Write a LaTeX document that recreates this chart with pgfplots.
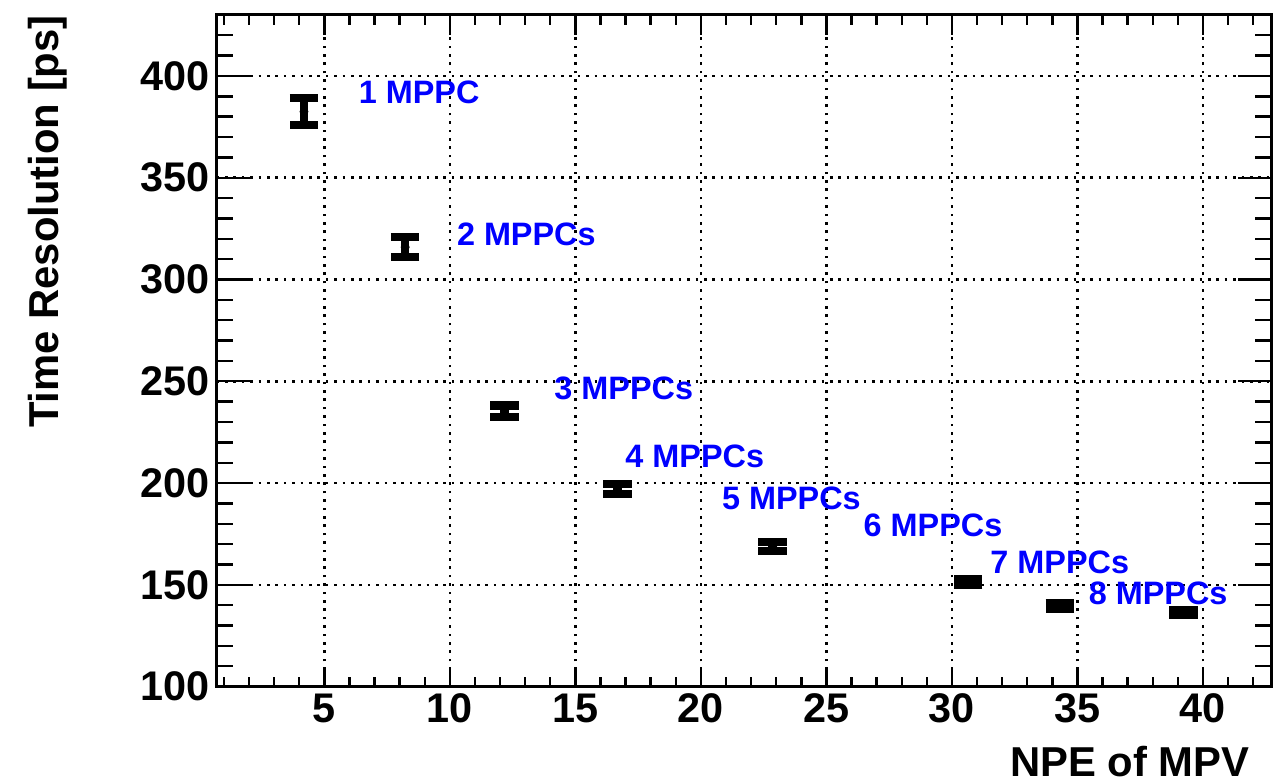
\documentclass[border=0pt]{standalone}
\usepackage{pgfplots}
\pgfplotsset{compat=1.18}
\usepackage{fontspec}
\setmainfont{Liberation Sans}

% time resolution vs. number of photoelectrons (MPV)
\pgfplotstableread{
npe   res    err
4.19  382.5  6.6
8.22  315.9  4.9
12.18 235.2  2.9
16.68 197.1  2.5
22.86 168.9  2.1
30.65 151.4  1.5
34.30 139.6  1.4
39.22 136.3  1.1
}\restable

\definecolor{rootblue}{RGB}{0,0,255}

\begin{document}
\begin{tikzpicture}
\useasboundingbox (-108.35pt,-48.15pt) rectangle (534.15pt,343.3pt);
\begin{axis}[
  scale only axis,
  width=527.15pt, height=335.85pt,
  xmin=0.713, xmax=42.71,
  ymin=100, ymax=430,
  xtick={5,10,...,40},
  ytick={100,150,...,400},
  minor xtick={1,...,42},
  minor ytick={100,110,...,430},
  tick align=inside,
  xtick pos=both, ytick pos=both,
  axis line style={line width=1.5pt, black},
  every tick/.style={black, line width=1.2pt},
  xtick style={/pgfplots/major tick length=10pt, /pgfplots/minor tick length=5pt},
  ytick style={/pgfplots/major tick length=16.5pt, /pgfplots/minor tick length=8pt},
  grid=major,
  major grid style={black, line width=1.3pt, dash pattern=on 1.3pt off 2.9pt},
  /pgf/number format/assume math mode=true,
  tick label style={font=\bfseries\fontsize{20.7}{24}\selectfont},
  label style={font=\bfseries\fontsize{20.9}{24}\selectfont, inner sep=0pt},
  xlabel={NPE of MPV},
  ylabel={Time Resolution [ps]},
  xlabel style={at={(axis description cs:1,0)}, anchor=base east,
                xshift=-10.5pt, yshift=-44.8pt},
  ylabel style={at={(axis description cs:-0.1496,1)}, anchor=base east},
  clip=false,
]
\addplot[black, only marks, mark=none,
  error bars/.cd, y dir=both, y explicit,
  error mark=|,
  error bar style={line width=4.3pt, black},
  error mark options={line width=4.1pt, mark size=7.1pt, black}]
  table[x=npe, y=res, y error=err] {\restable};

\begin{scope}[every node/.style={anchor=base west, inner sep=0pt,
    text=rootblue, font=\bfseries\fontsize{16.2}{19}\selectfont}]
\node at (axis cs:6.36,386.4)  {1 MPPC};
\node at (axis cs:10.27,316.8) {2 MPPCs};
\node at (axis cs:14.15,240.9) {3 MPPCs};
\node at (axis cs:16.98,207.4) {4 MPPCs};
\node at (axis cs:20.83,187.2) {5 MPPCs};
\node at (axis cs:26.47,173.8) {6 MPPCs};
\node at (axis cs:31.52,155.8) {7 MPPCs};
\node at (axis cs:35.44,140.2) {8 MPPCs};
\end{scope}
\end{axis}
\end{tikzpicture}
\end{document}
